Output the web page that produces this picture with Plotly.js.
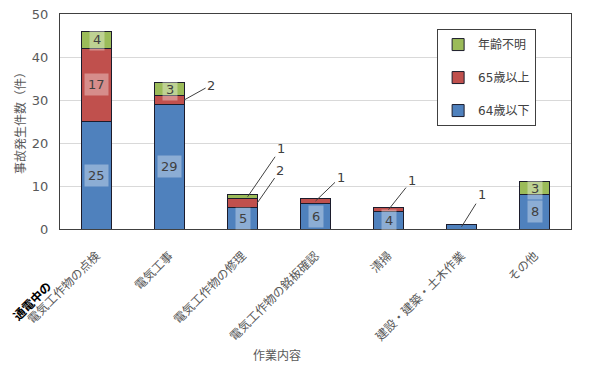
<!DOCTYPE html>
<html><head><meta charset="utf-8">
<script src="https://cdn.plot.ly/plotly-3.0.1.min.js"></script>
<style>html,body{margin:0;padding:0;background:#fff}#chart{width:595px;height:371px}</style>
</head><body><div id="chart"></div>
<script>
const categories = ['通電中の<br>電気工作物の点検', '電気工事', '電気工作物の修理', '電気工作物の銘板確認', '清掃', '建設・建築・土木作業', 'その他'];
const seriesNames = ['64歳以下', '65歳以上', '年齢不明'];
const under64 = [25, 29, 5, 6, 4, 1, 8];
const over65 = [17, 2, 2, 1, 1, 0, 0];
const unknownAge = [4, 3, 1, 0, 0, 0, 3];
const yTickVals = [0, 10, 20, 30, 40, 50];
const yTitle = '事故発生件数（件）';
const xTitle = '作業内容';

const colors = ['#4f81bd', '#c0504d', '#9bbb59'];
const FONT = 'DejaVu Sans, "Noto Sans CJK JP", sans-serif';
const series = [under64, over65, unknownAge];

const traces = series.map((vals, i) => ({
  type: 'bar', name: seriesNames[i], x: categories,
  y: vals.map(v => v === 0 ? null : v),
  marker: {color: colors[i], line: {color: '#1c1c2c', width: 1}},
  legendgroup: 'g' + i, legendrank: series.length - i, hoverinfo: 'skip'
}));

// callout placement (pixel offsets) for small segments, keyed "series-category"
const callouts = {
  '1-1': {dx: 0.2, ax: 27, ay: -15},
  '2-2': {dx: 0.07, ax: 33, ay: -48},
  '1-2': {dx: 0.2, ax: 23, ay: -33},
  '1-3': {dx: 0, ax: 25, ay: -24},
  '1-4': {dx: 0, ax: 23, ay: -29},
  '0-5': {dx: 0, ax: 20, ay: -32}
};

const annotations = [];
categories.forEach((c, j) => {
  let base = 0;
  series.forEach((vals, i) => {
    const v = vals[j];
    if (v > 0) {
      const mid = base + v / 2;
      if (v >= 3) {
        annotations.push({x: j, y: mid, xref: 'x', yref: 'y', text: String(v), showarrow: false,
          font: {family: FONT, size: 13, color: '#404040'}, bgcolor: 'rgba(255,255,255,0.35)', borderpad: 3});
      } else {
        const co = callouts[i + '-' + j] || {dx: 0, ax: 20, ay: -30};
        annotations.push({x: j + co.dx, y: mid, xref: 'x', yref: 'y', text: String(v), showarrow: true,
          arrowhead: 0, arrowwidth: 1, arrowcolor: '#404040', ax: co.ax, ay: co.ay, standoff: 0,
          font: {family: FONT, size: 13, color: '#404040'}});
      }
    }
    base += v;
  });
  const parts = c.split('<br>');
  if (parts.length > 1) {
    annotations.push({x: j, y: 0, xref: 'x', yref: 'paper', xanchor: 'center', yanchor: 'middle',
      xshift: -65, yshift: -72, textangle: -45,
      text: '<b>' + parts[0] + '</b>', showarrow: false, font: {family: FONT, size: 12, color: '#000'}});
  }
});
annotations.push({x: 0.425, y: -0.59, xref: 'paper', yref: 'paper', xanchor: 'center', yanchor: 'middle',
  text: xTitle, showarrow: false, font: {family: FONT, size: 12, color: '#595959'}});
annotations.push({x: -0.095, y: 0.507, xref: 'paper', yref: 'paper', text: yTitle, showarrow: false, textangle: -90,
  font: {family: FONT, size: 12, color: '#595959'}});

const layout = {
  width: 595, height: 371,
  margin: {l: 60, r: 24, t: 14, b: 142},
  paper_bgcolor: '#fff', plot_bgcolor: '#fff',
  barmode: 'stack', bargap: 0.6,
  font: {family: FONT, color: '#595959'},
  xaxis: {type: 'category', range: [-0.5, categories.length - 0.5], autorange: false,
    tickvals: categories, ticktext: categories.map(c => c.split('<br>').pop()),
    tickangle: -45, tickfont: {family: FONT, size: 12, color: '#595959'}, ticklabelstandoff: 14,
    showline: true, linecolor: '#404040', linewidth: 1, mirror: true, ticks: '', automargin: false},
  yaxis: {range: [0, 50], autorange: false, tickvals: yTickVals, gridcolor: '#d9d9d9', showline: true, linecolor: '#404040',
    mirror: true, ticks: '', ticklabelstandoff: 8, tickfont: {family: FONT, size: 13, color: '#595959'}, zeroline: false, automargin: false},
  legend: {x: 0.738, y: 0.93, xanchor: 'left', yanchor: 'top', bordercolor: '#404040', borderwidth: 1,
    bgcolor: '#fff', font: {family: FONT, size: 12, color: '#404040'}, traceorder: 'grouped', tracegroupgap: 14},
  annotations: annotations,
  showlegend: true
};

Plotly.newPlot('chart', traces, layout, {staticPlot: true});
</script></body></html>
